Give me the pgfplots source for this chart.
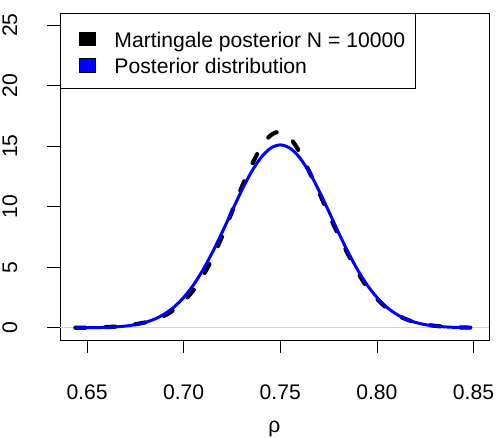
\documentclass[border=0pt]{standalone}
\usepackage{fontspec}
\setmainfont{Liberation Sans}
\usepackage{pgfplots}
\pgfplotsset{compat=1.18}
\definecolor{zeroline}{RGB}{211,211,211}
\newcommand{\fs}{\fontsize{21.2pt}{25pt}\selectfont}
\begin{document}
\fs
\begin{tikzpicture}
\path[use as bounding box] (-60bp,-98bp) rectangle (436bp,340bp);
\begin{axis}[
  at={(0,0)}, anchor=south west,
  scale only axis, width=429bp, height=327bp,
  xmin=0.636, xmax=0.858, ymin=-1, ymax=26,
  xtick={0.65,0.7,0.75,0.8,0.85},
  xticklabels={0.65,0.70,0.75,0.80,0.85},
  ytick={0,5,10,15,20,25},
  yticklabels={0,5,10,15,20,25},
  tick pos=left,
  tick align=outside, major tick length=12.5bp,
  tick style={black, line width=0.8bp},
  axis line style={line width=0.8bp},
  every tick label/.append style={font=\fs},
  xticklabel style={anchor=north, inner sep=0pt, yshift=-31.7bp},
  yticklabel style={xshift=-30bp, rotate=90, anchor=south, inner sep=0pt},
  xlabel={ρ},
  xlabel style={at={(axis description cs:0.5,0)}, anchor=base, inner sep=0pt, yshift=-92.7bp, font=\fs},
  legend style={at={(0,1)}, anchor=north west, draw=black, line width=0.8bp,
    inner xsep=10bp, inner ysep=10.9bp, row sep=0pt, column sep=0pt,
    nodes={inner sep=0pt, anchor=base west, text height=22.8bp, text depth=3.9bp},
    cells={anchor=base west},
    font=\fs},
]
\addplot[zeroline, line width=1.2bp, forget plot] coordinates {(0.636,0) (0.858,0)};
\addplot[black, line width=4.2bp, dash pattern=on 10bp off 20bp, line cap=round, smooth, forget plot] coordinates {
(0.644,0.01) (0.65,0.02) (0.655,0.04) (0.66,0.07) (0.665,0.11) (0.67,0.18) (0.675,0.3) (0.68,0.45) (0.685,0.68) (0.69,1.0) (0.695,1.5) (0.70,2.2) (0.705,3.1) (0.71,4.3) (0.715,5.8) (0.72,7.6) (0.725,9.6) (0.73,11.6) (0.735,13.4) (0.74,14.9) (0.745,15.9) (0.75,16.2) (0.755,15.7) (0.76,14.5) (0.765,12.9) (0.77,11.2) (0.775,9.4) (0.78,7.7) (0.785,6.1) (0.79,4.6) (0.795,3.35) (0.80,2.4) (0.805,1.65) (0.81,1.1) (0.815,0.72) (0.82,0.45) (0.825,0.28) (0.83,0.17) (0.835,0.1) (0.84,0.06) (0.845,0.03) (0.849,0.02)
};
\addplot[blue, line width=3bp, smooth, forget plot] coordinates {
(0.644,0.005) (0.65,0.012) (0.655,0.023) (0.66,0.045) (0.665,0.085) (0.67,0.153) (0.675,0.27) (0.68,0.45) (0.685,0.73) (0.69,1.14) (0.695,1.72) (0.70,2.51) (0.705,3.53) (0.71,4.79) (0.715,6.28) (0.72,7.92) (0.725,9.65) (0.73,11.34) (0.735,12.86) (0.74,14.06) (0.745,14.84) (0.75,15.11) (0.755,14.84) (0.76,14.06) (0.765,12.86) (0.77,11.34) (0.775,9.65) (0.78,7.92) (0.785,6.28) (0.79,4.79) (0.795,3.53) (0.80,2.51) (0.805,1.72) (0.81,1.14) (0.815,0.73) (0.82,0.45) (0.825,0.27) (0.83,0.153) (0.835,0.085) (0.84,0.045) (0.845,0.023) (0.849,0.013)
};
\addlegendimage{legend image code/.code={\path (-8.3bp,0) (35bp,0); \draw[black, solid, line width=0.6bp, fill=black] (0,1.7bp) rectangle (16.7bp,15bp);}}
\addlegendentry{Martingale posterior N = 10000}
\addlegendimage{legend image code/.code={\path (-8.3bp,0) (35bp,0); \draw[black, solid, line width=0.6bp, fill=blue] (0,1.7bp) rectangle (16.7bp,15bp);}}
\addlegendentry{Posterior distribution}
\end{axis}
\end{tikzpicture}
\end{document}
